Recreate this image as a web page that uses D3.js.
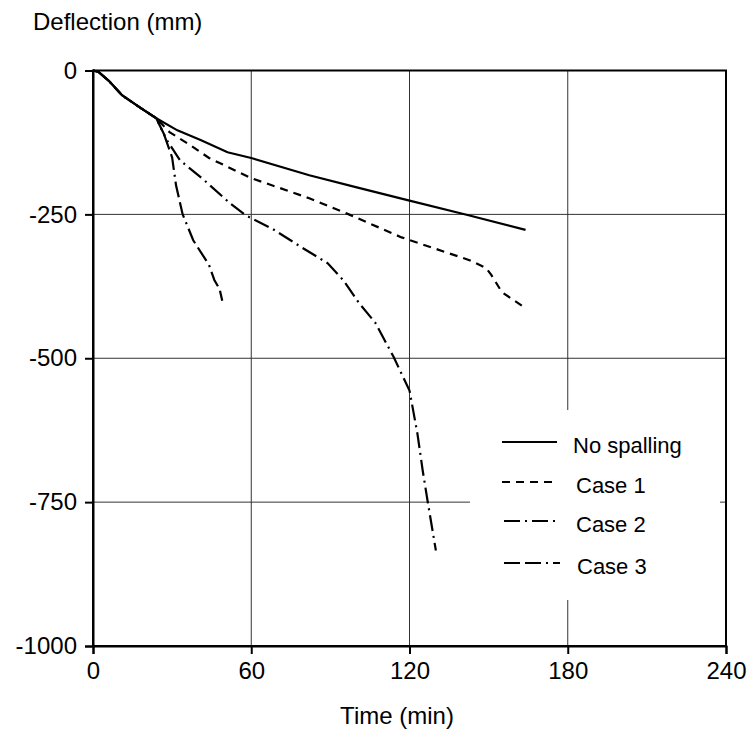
<!DOCTYPE html>
<html><head><meta charset="utf-8">
<script src="https://cdn.jsdelivr.net/npm/d3@7"></script>
<style>body{margin:0;background:#fff}svg{display:block}text{font-family:"Liberation Sans",Arial,sans-serif;fill:#000}</style>
</head><body><svg id="c" width="750" height="735"></svg>
<script>
const xTicks = [0, 60, 120, 180, 240];
const yTicks = [0, -250, -500, -750, -1000];
const seriesNames = ["No spalling", "Case 1", "Case 2", "Case 3"];
const noSpalling = [[0,0],[2,-2],[6,-18],[11,-43],[18,-65],[24,-83],[32,-104],[41,-121],[51,-142],[60,-152],[82,-182],[100,-203],[120,-226],[142,-251],[164,-277]];
const case1 = [[0,0],[2,-2],[6,-18],[11,-43],[18,-65],[24,-83],[29,-107],[37,-130],[44,-152],[60,-187],[82,-222],[97,-250],[117,-290],[143,-330],[149,-343],[151,-355],[155,-385],[163,-410]];
const case2 = [[0,0],[2,-2],[6,-18],[11,-43],[18,-65],[24,-83],[28,-121],[33,-156],[42,-190],[52,-231],[58,-252],[68,-275],[79,-307],[89,-335],[95,-365],[101,-405],[107,-438],[114,-498],[120,-556],[123,-631],[125,-695],[127,-752],[130,-834]];
const case3 = [[0,0],[2,-2],[6,-18],[11,-43],[18,-65],[24,-83],[27,-112],[30,-151],[31.5,-200],[34,-250],[38,-295],[44,-338],[46,-364],[48,-380],[49,-400]];

const dashes = [null, "8,6", "16,5,2,5", "16,5,16,5,2,5"];
const data = [noSpalling, case1, case2, case3];

const svg = d3.select("#c");
const L = 93, R = 726, T = 70.5, B = 646;
const x = d3.scaleLinear().domain([0, 240]).range([L, R]);
const y = d3.scaleLinear().domain([-1000, 0]).range([B, T]);

// gridlines
const g = svg.append("g");
g.selectAll(".vg").data(xTicks.slice(1, -1)).enter().append("line")
  .attr("x1", d => x(d)).attr("x2", d => x(d)).attr("y1", T).attr("y2", B)
  .attr("stroke", "#333").attr("stroke-width", 1);
g.selectAll(".hg").data(yTicks.slice(1, -1)).enter().append("line")
  .attr("x1", L).attr("x2", R).attr("y1", d => y(d)).attr("y2", d => y(d))
  .attr("stroke", "#333").attr("stroke-width", 1);

// lines
const line = d3.line().x(d => x(d[0])).y(d => y(d[1]));
data.forEach((s, i) => {
  svg.append("path").attr("d", line(s)).attr("fill", "none")
    .attr("stroke", "#000").attr("stroke-width", 2.2)
    .attr("stroke-dasharray", dashes[i]);
});

// frame
svg.append("rect").attr("x", L).attr("y", T).attr("width", R - L).attr("height", B - T)
  .attr("fill", "none").attr("stroke", "#000").attr("stroke-width", 2);

// axes
const fmt = d => String(d);
const xa = svg.append("g").attr("transform", `translate(0,${B})`)
  .call(d3.axisBottom(x).tickValues(xTicks).tickSize(8).tickPadding(8).tickFormat(fmt));
const ya = svg.append("g").attr("transform", `translate(${L},0)`)
  .call(d3.axisLeft(y).tickValues(yTicks).tickSize(8).tickPadding(8).tickFormat(fmt));
[xa, ya].forEach(a => {
  a.select(".domain").attr("stroke", "#000").attr("stroke-width", 2);
  a.selectAll(".tick line").attr("stroke", "#000").attr("stroke-width", 2);
  a.selectAll("text").style("font-size", "24px").style("font-family", '"Liberation Sans",Arial,sans-serif').attr("fill", "#000");
});

// axis titles
svg.append("text").attr("x", 33).attr("y", 30).style("font-size", "24px").text("Deflection (mm)");
svg.append("text").attr("x", 397).attr("y", 724).attr("text-anchor", "middle").style("font-size", "24px").text("Time (min)");

// legend
svg.append("rect").attr("x", 470).attr("y", 410).attr("width", 250).attr("height", 190).attr("fill", "#fff");
const leg = [[502, 557, 442, 573], [502, 557, 482, 576], [504, 560, 521, 576], [504, 560, 563, 577]];
seriesNames.forEach((n, i) => {
  const p = leg[i];
  svg.append("line").attr("x1", p[0]).attr("x2", p[1]).attr("y1", p[2]).attr("y2", p[2])
    .attr("stroke", "#000").attr("stroke-width", 2.2).attr("stroke-dasharray", dashes[i]);
  svg.append("text").attr("x", p[3]).attr("y", p[2] + 11).style("font-size", "22px").text(n);
});
</script></body></html>
